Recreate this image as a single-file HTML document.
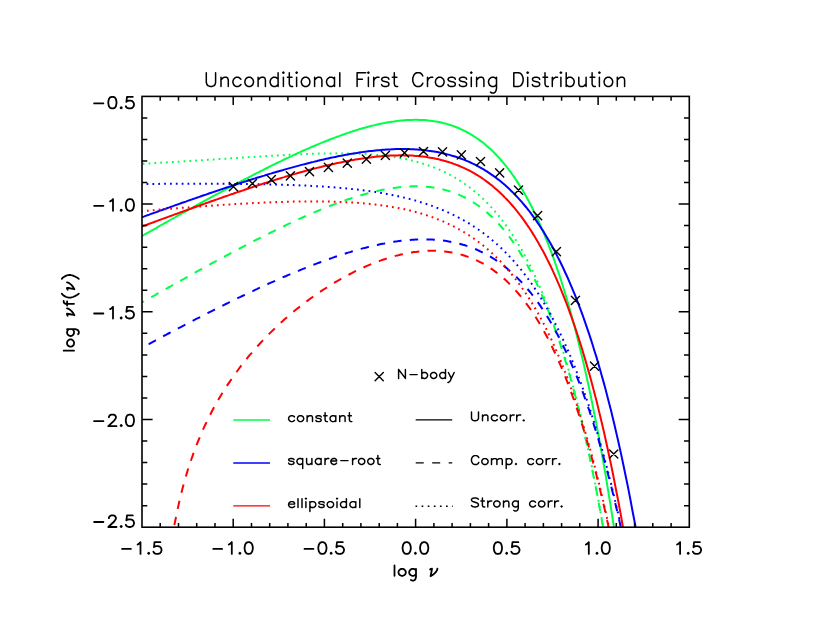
<!DOCTYPE html><html><head><meta charset="utf-8"><title>Unconditional First Crossing Distribution</title><style>html,body{margin:0;padding:0;background:#fff;font-family:"Liberation Sans",sans-serif}svg{display:block}</style></head><body><svg width="830" height="624" viewBox="0 0 830 624">
<rect width="830" height="624" fill="#fff"/>
<defs><clipPath id="c"><rect x="142.0" y="96.4" width="547.3" height="430.80000000000007"/></clipPath></defs>
<g clip-path="url(#c)" fill="none" stroke-width="2">
<path d="M142.0 236.1L143.8 235.0L145.6 234.0L147.5 233.0L149.3 231.9L151.1 230.9L152.9 229.8L154.8 228.8L156.6 227.8L158.4 226.7L160.2 225.7L162.1 224.7L163.9 223.6L165.7 222.6L167.5 221.6L169.4 220.5L171.2 219.5L173.0 218.5L174.8 217.5L176.7 216.4L178.5 215.4L180.3 214.4L182.1 213.4L184.0 212.3L185.8 211.3L187.6 210.3L189.4 209.3L191.3 208.3L193.1 207.3L194.9 206.2L196.7 205.2L198.6 204.2L200.4 203.2L202.2 202.2L204.0 201.2L205.9 200.2L207.7 199.2L209.5 198.2L211.3 197.2L213.1 196.2L215.0 195.2L216.8 194.2L218.6 193.3L220.4 192.3L222.3 191.3L224.1 190.3L225.9 189.3L227.7 188.3L229.6 187.4L231.4 186.4L233.2 185.4L235.0 184.5L236.9 183.5L238.7 182.5L240.5 181.6L242.3 180.6L244.2 179.7L246.0 178.7L247.8 177.8L249.6 176.8L251.5 175.9L253.3 174.9L255.1 174.0L256.9 173.1L258.8 172.1L260.6 171.2L262.4 170.3L264.2 169.4L266.1 168.4L267.9 167.5L269.7 166.6L271.5 165.7L273.4 164.8L275.2 163.9L277.0 163.0L278.8 162.1L280.6 161.3L282.5 160.4L284.3 159.5L286.1 158.6L287.9 157.8L289.8 156.9L291.6 156.1L293.4 155.2L295.2 154.4L297.1 153.5L298.9 152.7L300.7 151.9L302.5 151.0L304.4 150.2L306.2 149.4L308.0 148.6L309.8 147.8L311.7 147.0L313.5 146.2L315.3 145.5L317.1 144.7L319.0 143.9L320.8 143.2L322.6 142.4L324.4 141.7L326.3 141.0L328.1 140.2L329.9 139.5L331.7 138.8L333.6 138.1L335.4 137.4L337.2 136.7L339.0 136.1L340.9 135.4L342.7 134.7L344.5 134.1L346.3 133.5L348.1 132.9L350.0 132.2L351.8 131.6L353.6 131.0L355.4 130.5L357.3 129.9L359.1 129.3L360.9 128.8L362.7 128.3L364.6 127.8L366.4 127.2L368.2 126.8L370.0 126.3L371.9 125.8L373.7 125.4L375.5 124.9L377.3 124.5L379.2 124.1L381.0 123.7L382.8 123.3L384.6 123.0L386.5 122.6L388.3 122.3L390.1 122.0L391.9 121.7L393.8 121.5L395.6 121.2L397.4 121.0L399.2 120.8L401.1 120.6L402.9 120.4L404.7 120.2L406.5 120.1L408.4 120.0L410.2 119.9L412.0 119.9L413.8 119.8L415.7 119.8L417.5 119.8L419.3 119.9L421.1 119.9L422.9 120.0L424.8 120.1L426.6 120.3L428.4 120.5L430.2 120.7L432.1 120.9L433.9 121.2L435.7 121.5L437.5 121.8L439.4 122.1L441.2 122.5L443.0 123.0L444.8 123.4L446.7 123.9L448.5 124.5L450.3 125.0L452.1 125.6L454.0 126.3L455.8 127.0L457.6 127.7L459.4 128.5L461.3 129.3L463.1 130.2L464.9 131.1L466.7 132.0L468.6 133.0L470.4 134.1L472.2 135.2L474.0 136.3L475.9 137.5L477.7 138.8L479.5 140.1L481.3 141.4L483.2 142.8L485.0 144.3L486.8 145.9L488.6 147.5L490.4 149.1L492.3 150.8L494.1 152.6L495.9 154.5L497.7 156.4L499.6 158.4L501.4 160.5L503.2 162.6L505.0 164.8L506.9 167.1L508.7 169.5L510.5 171.9L512.3 174.5L514.2 177.1L516.0 179.8L517.8 182.6L519.6 185.4L521.5 188.4L523.3 191.5L525.1 194.6L526.9 197.9L528.8 201.3L530.6 204.7L532.4 208.3L534.2 212.0L536.1 215.8L537.9 219.7L539.7 223.7L541.5 227.8L543.4 232.1L545.2 236.5L547.0 241.0L548.8 245.6L550.7 250.4L552.5 255.3L554.3 260.3L556.1 265.5L557.9 270.9L559.8 276.4L561.6 282.0L563.4 287.8L565.2 293.8L567.1 299.9L568.9 306.2L570.7 312.6L572.5 319.3L574.4 326.1L576.2 333.1L578.0 340.3L579.8 347.7L581.7 355.2L583.5 363.0L585.3 371.0L587.1 379.2L589.0 387.6L590.8 396.2L592.6 405.1L594.4 414.2L596.3 423.5L598.1 433.1L599.9 442.9L601.7 453.0L603.6 463.3L605.4 473.9L607.2 484.8L609.0 495.9L610.9 507.4L612.7 519.1L614.5 531.1L616.3 543.4L618.2 556.1L620.0 569.0L621.8 582.3L623.6 595.9L625.4 609.9L627.3 624.2L629.1 638.9L630.9 653.9L632.7 669.3" stroke="#00ff48"/>
<path d="M142.0 302.5L143.8 301.5L145.6 300.5L147.5 299.4L149.3 298.4L151.1 297.3L152.9 296.3L154.8 295.3L156.6 294.2L158.4 293.2L160.2 292.1L162.1 291.1L163.9 290.1L165.7 289.1L167.5 288.0L169.4 287.0L171.2 286.0L173.0 284.9L174.8 283.9L176.7 282.9L178.5 281.9L180.3 280.8L182.1 279.8L184.0 278.8L185.8 277.8L187.6 276.8L189.4 275.7L191.3 274.7L193.1 273.7L194.9 272.7L196.7 271.7L198.6 270.7L200.4 269.7L202.2 268.7L204.0 267.7L205.9 266.7L207.7 265.7L209.5 264.7L211.3 263.7L213.1 262.7L215.0 261.7L216.8 260.7L218.6 259.7L220.4 258.7L222.3 257.7L224.1 256.8L225.9 255.8L227.7 254.8L229.6 253.8L231.4 252.9L233.2 251.9L235.0 250.9L236.9 249.9L238.7 249.0L240.5 248.0L242.3 247.1L244.2 246.1L246.0 245.2L247.8 244.2L249.6 243.3L251.5 242.3L253.3 241.4L255.1 240.4L256.9 239.5L258.8 238.6L260.6 237.7L262.4 236.7L264.2 235.8L266.1 234.9L267.9 234.0L269.7 233.1L271.5 232.2L273.4 231.3L275.2 230.4L277.0 229.5L278.8 228.6L280.6 227.7L282.5 226.8L284.3 226.0L286.1 225.1L287.9 224.2L289.8 223.4L291.6 222.5L293.4 221.7L295.2 220.8L297.1 220.0L298.9 219.1L300.7 218.3L302.5 217.5L304.4 216.7L306.2 215.9L308.0 215.1L309.8 214.3L311.7 213.5L313.5 212.7L315.3 211.9L317.1 211.2L319.0 210.4L320.8 209.6L322.6 208.9L324.4 208.1L326.3 207.4L328.1 206.7L329.9 206.0L331.7 205.3L333.6 204.6L335.4 203.9L337.2 203.2L339.0 202.5L340.9 201.9L342.7 201.2L344.5 200.6L346.3 199.9L348.1 199.3L350.0 198.7L351.8 198.1L353.6 197.5L355.4 196.9L357.3 196.4L359.1 195.8L360.9 195.3L362.7 194.7L364.6 194.2L366.4 193.7L368.2 193.2L370.0 192.7L371.9 192.3L373.7 191.8L375.5 191.4L377.3 191.0L379.2 190.6L381.0 190.2L382.8 189.8L384.6 189.4L386.5 189.1L388.3 188.8L390.1 188.5L391.9 188.2L393.8 187.9L395.6 187.7L397.4 187.4L399.2 187.2L401.1 187.0L402.9 186.9L404.7 186.7L406.5 186.6L408.4 186.5L410.2 186.4L412.0 186.3L413.8 186.3L415.7 186.3L417.5 186.3L419.3 186.3L421.1 186.4L422.9 186.5L424.8 186.6L426.6 186.7L428.4 186.9L430.2 187.1L432.1 187.4L433.9 187.6L435.7 187.9L437.5 188.2L439.4 188.6L441.2 189.0L443.0 189.4L444.8 189.9L446.7 190.4L448.5 190.9L450.3 191.5L452.1 192.1L454.0 192.7L455.8 193.4L457.6 194.2L459.4 194.9L461.3 195.8L463.1 196.6L464.9 197.5L466.7 198.5L468.6 199.5L470.4 200.5L472.2 201.6L474.0 202.8L475.9 204.0L477.7 205.2L479.5 206.5L481.3 207.9L483.2 209.3L485.0 210.8L486.8 212.3L488.6 213.9L490.4 215.6L492.3 217.3L494.1 219.1L495.9 220.9L497.7 222.9L499.6 224.9L501.4 226.9L503.2 229.1L505.0 231.3L506.9 233.6L508.7 235.9L510.5 238.4L512.3 240.9L514.2 243.5L516.0 246.2L517.8 249.0L519.6 251.9L521.5 254.9L523.3 257.9L525.1 261.1L526.9 264.4L528.8 267.7L530.6 271.2L532.4 274.8L534.2 278.4L536.1 282.2L537.9 286.1L539.7 290.1L541.5 294.3L543.4 298.5L545.2 302.9L547.0 307.4L548.8 312.1L550.7 316.8L552.5 321.8L554.3 326.8L556.1 332.0L557.9 337.3L559.8 342.8L561.6 348.5L563.4 354.3L565.2 360.2L567.1 366.3L568.9 372.6L570.7 379.1L572.5 385.7L574.4 392.5L576.2 399.5L578.0 406.7L579.8 414.1L581.7 421.7L583.5 429.5L585.3 437.5L587.1 445.6L589.0 454.1L590.8 462.7L592.6 471.6L594.4 480.6L596.3 490.0L598.1 499.5L599.9 509.4L601.7 519.4L603.6 529.8L605.4 540.4L607.2 551.2L609.0 562.4L610.9 573.8L612.7 585.5L614.5 597.6L616.3 609.9L618.2 622.5L620.0 635.5L621.8 648.8L623.6 662.4L625.4 676.3" stroke="#00ff48" stroke-dasharray="8.4 8.25" stroke-dashoffset="6.05"/>
<path d="M142.0 163.8L143.8 163.7L145.6 163.6L147.5 163.5L149.3 163.4L151.1 163.3L152.9 163.2L154.8 163.1L156.6 162.9L158.4 162.8L160.2 162.7L162.1 162.6L163.9 162.5L165.7 162.4L167.5 162.3L169.4 162.2L171.2 162.1L173.0 162.0L174.8 161.9L176.7 161.8L178.5 161.7L180.3 161.6L182.1 161.4L184.0 161.3L185.8 161.2L187.6 161.1L189.4 161.0L191.3 160.9L193.1 160.8L194.9 160.7L196.7 160.5L198.6 160.4L200.4 160.3L202.2 160.2L204.0 160.1L205.9 160.0L207.7 159.8L209.5 159.7L211.3 159.6L213.1 159.5L215.0 159.4L216.8 159.3L218.6 159.1L220.4 159.0L222.3 158.9L224.1 158.8L225.9 158.7L227.7 158.5L229.6 158.4L231.4 158.3L233.2 158.2L235.0 158.1L236.9 157.9L238.7 157.8L240.5 157.7L242.3 157.6L244.2 157.5L246.0 157.4L247.8 157.2L249.6 157.1L251.5 157.0L253.3 156.9L255.1 156.8L256.9 156.7L258.8 156.5L260.6 156.4L262.4 156.3L264.2 156.2L266.1 156.1L267.9 156.0L269.7 155.9L271.5 155.8L273.4 155.7L275.2 155.6L277.0 155.5L278.8 155.4L280.6 155.3L282.5 155.2L284.3 155.1L286.1 155.0L287.9 154.9L289.8 154.8L291.6 154.7L293.4 154.6L295.2 154.5L297.1 154.4L298.9 154.3L300.7 154.3L302.5 154.2L304.4 154.1L306.2 154.0L308.0 154.0L309.8 153.9L311.7 153.8L313.5 153.8L315.3 153.7L317.1 153.7L319.0 153.6L320.8 153.6L322.6 153.5L324.4 153.5L326.3 153.5L328.1 153.4L329.9 153.4L331.7 153.4L333.6 153.4L335.4 153.4L337.2 153.3L339.0 153.3L340.9 153.4L342.7 153.4L344.5 153.4L346.3 153.4L348.1 153.4L350.0 153.5L351.8 153.5L353.6 153.6L355.4 153.6L357.3 153.7L359.1 153.8L360.9 153.8L362.7 153.9L364.6 154.0L366.4 154.1L368.2 154.2L370.0 154.4L371.9 154.5L373.7 154.6L375.5 154.8L377.3 155.0L379.2 155.1L381.0 155.3L382.8 155.5L384.6 155.7L386.5 156.0L388.3 156.2L390.1 156.4L391.9 156.7L393.8 157.0L395.6 157.3L397.4 157.6L399.2 157.9L401.1 158.2L402.9 158.6L404.7 158.9L406.5 159.3L408.4 159.7L410.2 160.1L412.0 160.6L413.8 161.0L415.7 161.5L417.5 162.0L419.3 162.5L421.1 163.0L422.9 163.6L424.8 164.2L426.6 164.8L428.4 165.4L430.2 166.0L432.1 166.7L433.9 167.4L435.7 168.1L437.5 168.9L439.4 169.7L441.2 170.5L443.0 171.3L444.8 172.2L446.7 173.1L448.5 174.0L450.3 175.0L452.1 176.0L454.0 177.0L455.8 178.1L457.6 179.2L459.4 180.3L461.3 181.5L463.1 182.7L464.9 184.0L466.7 185.2L468.6 186.6L470.4 188.0L472.2 189.4L474.0 190.9L475.9 192.4L477.7 193.9L479.5 195.6L481.3 197.2L483.2 198.9L485.0 200.7L486.8 202.5L488.6 204.4L490.4 206.3L492.3 208.3L494.1 210.4L495.9 212.5L497.7 214.7L499.6 216.9L501.4 219.3L503.2 221.6L505.0 224.1L506.9 226.6L508.7 229.2L510.5 231.9L512.3 234.6L514.2 237.4L516.0 240.4L517.8 243.3L519.6 246.4L521.5 249.6L523.3 252.8L525.1 256.2L526.9 259.6L528.8 263.2L530.6 266.8L532.4 270.5L534.2 274.4L536.1 278.3L537.9 282.4L539.7 286.6L541.5 290.8L543.4 295.2L545.2 299.8L547.0 304.4L548.8 309.2L550.7 314.1L552.5 319.1L554.3 324.3L556.1 329.6L557.9 335.0L559.8 340.6L561.6 346.4L563.4 352.3L565.2 358.3L567.1 364.5L568.9 370.9L570.7 377.5L572.5 384.2L574.4 391.1L576.2 398.2L578.0 405.4L579.8 412.9L581.7 420.5L583.5 428.4L585.3 436.4L587.1 444.7L589.0 453.1L590.8 461.8L592.6 470.7L594.4 479.9L596.3 489.2L598.1 498.9L599.9 508.7L601.7 518.8L603.6 529.2L605.4 539.8L607.2 550.7L609.0 561.9L610.9 573.4L612.7 585.1L614.5 597.2L616.3 609.5L618.2 622.2L620.0 635.2L621.8 648.5L623.6 662.1L625.4 676.1" stroke="#00ff48" stroke-dasharray="1.75 4.1" stroke-dashoffset="5.12"/>
<path d="M142.0 217.2L143.8 216.6L145.6 215.9L147.5 215.2L149.3 214.6L151.1 213.9L152.9 213.3L154.8 212.6L156.6 212.0L158.4 211.3L160.2 210.6L162.1 210.0L163.9 209.3L165.7 208.7L167.5 208.0L169.4 207.4L171.2 206.7L173.0 206.1L174.8 205.4L176.7 204.8L178.5 204.1L180.3 203.5L182.1 202.8L184.0 202.2L185.8 201.6L187.6 200.9L189.4 200.3L191.3 199.6L193.1 199.0L194.9 198.4L196.7 197.7L198.6 197.1L200.4 196.5L202.2 195.8L204.0 195.2L205.9 194.6L207.7 194.0L209.5 193.3L211.3 192.7L213.1 192.1L215.0 191.5L216.8 190.9L218.6 190.3L220.4 189.6L222.3 189.0L224.1 188.4L225.9 187.8L227.7 187.2L229.6 186.6L231.4 186.0L233.2 185.4L235.0 184.8L236.9 184.2L238.7 183.6L240.5 183.0L242.3 182.4L244.2 181.8L246.0 181.3L247.8 180.7L249.6 180.1L251.5 179.5L253.3 178.9L255.1 178.4L256.9 177.8L258.8 177.2L260.6 176.7L262.4 176.1L264.2 175.6L266.1 175.0L267.9 174.4L269.7 173.9L271.5 173.4L273.4 172.8L275.2 172.3L277.0 171.7L278.8 171.2L280.6 170.7L282.5 170.2L284.3 169.6L286.1 169.1L287.9 168.6L289.8 168.1L291.6 167.6L293.4 167.1L295.2 166.6L297.1 166.1L298.9 165.6L300.7 165.1L302.5 164.6L304.4 164.2L306.2 163.7L308.0 163.2L309.8 162.8L311.7 162.3L313.5 161.9L315.3 161.4L317.1 161.0L319.0 160.5L320.8 160.1L322.6 159.7L324.4 159.3L326.3 158.8L328.1 158.4L329.9 158.0L331.7 157.6L333.6 157.3L335.4 156.9L337.2 156.5L339.0 156.1L340.9 155.8L342.7 155.4L344.5 155.1L346.3 154.7L348.1 154.4L350.0 154.1L351.8 153.8L353.6 153.5L355.4 153.2L357.3 152.9L359.1 152.6L360.9 152.3L362.7 152.1L364.6 151.8L366.4 151.6L368.2 151.3L370.0 151.1L371.9 150.9L373.7 150.7L375.5 150.5L377.3 150.3L379.2 150.2L381.0 150.0L382.8 149.8L384.6 149.7L386.5 149.6L388.3 149.5L390.1 149.4L391.9 149.3L393.8 149.2L395.6 149.1L397.4 149.1L399.2 149.1L401.1 149.0L402.9 149.0L404.7 149.0L406.5 149.1L408.4 149.1L410.2 149.2L412.0 149.2L413.8 149.3L415.7 149.4L417.5 149.5L419.3 149.7L421.1 149.8L422.9 150.0L424.8 150.2L426.6 150.4L428.4 150.7L430.2 150.9L432.1 151.2L433.9 151.5L435.7 151.8L437.5 152.1L439.4 152.5L441.2 152.9L443.0 153.3L444.8 153.7L446.7 154.2L448.5 154.6L450.3 155.1L452.1 155.7L454.0 156.2L455.8 156.8L457.6 157.4L459.4 158.0L461.3 158.7L463.1 159.4L464.9 160.1L466.7 160.9L468.6 161.7L470.4 162.5L472.2 163.3L474.0 164.2L475.9 165.1L477.7 166.1L479.5 167.1L481.3 168.1L483.2 169.2L485.0 170.3L486.8 171.4L488.6 172.6L490.4 173.8L492.3 175.1L494.1 176.4L495.9 177.7L497.7 179.1L499.6 180.5L501.4 182.0L503.2 183.6L505.0 185.1L506.9 186.8L508.7 188.4L510.5 190.2L512.3 191.9L514.2 193.8L516.0 195.7L517.8 197.6L519.6 199.6L521.5 201.7L523.3 203.8L525.1 206.0L526.9 208.2L528.8 210.5L530.6 212.9L532.4 215.3L534.2 217.8L536.1 220.4L537.9 223.1L539.7 225.8L541.5 228.6L543.4 231.4L545.2 234.4L547.0 237.4L548.8 240.5L550.7 243.7L552.5 247.0L554.3 250.4L556.1 253.8L557.9 257.4L559.8 261.0L561.6 264.7L563.4 268.5L565.2 272.5L567.1 276.5L568.9 280.6L570.7 284.9L572.5 289.2L574.4 293.7L576.2 298.2L578.0 302.9L579.8 307.7L581.7 312.6L583.5 317.7L585.3 322.8L587.1 328.1L589.0 333.6L590.8 339.1L592.6 344.8L594.4 350.7L596.3 356.6L598.1 362.8L599.9 369.0L601.7 375.5L603.6 382.1L605.4 388.8L607.2 395.7L609.0 402.8L610.9 410.1L612.7 417.5L614.5 425.1L616.3 432.9L618.2 440.9L620.0 449.1L621.8 457.4L623.6 466.0L625.4 474.8L627.3 483.7L629.1 492.9L630.9 502.3L632.7 512.0L634.6 521.8L636.4 531.9L638.2 542.3L640.0 552.9L641.9 563.7L643.7 574.8L645.5 586.1" stroke="#0000ff"/>
<path d="M142.0 347.7L143.8 346.7L145.6 345.7L147.5 344.7L149.3 343.8L151.1 342.8L152.9 341.8L154.8 340.8L156.6 339.8L158.4 338.9L160.2 337.9L162.1 336.9L163.9 335.9L165.7 335.0L167.5 334.0L169.4 333.0L171.2 332.1L173.0 331.1L174.8 330.1L176.7 329.2L178.5 328.2L180.3 327.3L182.1 326.3L184.0 325.4L185.8 324.4L187.6 323.5L189.4 322.5L191.3 321.6L193.1 320.6L194.9 319.7L196.7 318.7L198.6 317.8L200.4 316.9L202.2 315.9L204.0 315.0L205.9 314.1L207.7 313.1L209.5 312.2L211.3 311.3L213.1 310.4L215.0 309.5L216.8 308.5L218.6 307.6L220.4 306.7L222.3 305.8L224.1 304.9L225.9 304.0L227.7 303.1L229.6 302.2L231.4 301.3L233.2 300.4L235.0 299.5L236.9 298.6L238.7 297.7L240.5 296.9L242.3 296.0L244.2 295.1L246.0 294.2L247.8 293.4L249.6 292.5L251.5 291.6L253.3 290.8L255.1 289.9L256.9 289.1L258.8 288.2L260.6 287.4L262.4 286.5L264.2 285.7L266.1 284.9L267.9 284.0L269.7 283.2L271.5 282.4L273.4 281.6L275.2 280.8L277.0 279.9L278.8 279.1L280.6 278.3L282.5 277.5L284.3 276.7L286.1 276.0L287.9 275.2L289.8 274.4L291.6 273.6L293.4 272.9L295.2 272.1L297.1 271.3L298.9 270.6L300.7 269.8L302.5 269.1L304.4 268.4L306.2 267.6L308.0 266.9L309.8 266.2L311.7 265.5L313.5 264.8L315.3 264.1L317.1 263.4L319.0 262.7L320.8 262.0L322.6 261.3L324.4 260.7L326.3 260.0L328.1 259.3L329.9 258.7L331.7 258.1L333.6 257.4L335.4 256.8L337.2 256.2L339.0 255.6L340.9 255.0L342.7 254.4L344.5 253.8L346.3 253.2L348.1 252.6L350.0 252.1L351.8 251.5L353.6 251.0L355.4 250.5L357.3 249.9L359.1 249.4L360.9 248.9L362.7 248.4L364.6 247.9L366.4 247.5L368.2 247.0L370.0 246.6L371.9 246.1L373.7 245.7L375.5 245.3L377.3 244.9L379.2 244.5L381.0 244.1L382.8 243.7L384.6 243.4L386.5 243.0L388.3 242.7L390.1 242.4L391.9 242.1L393.8 241.8L395.6 241.5L397.4 241.3L399.2 241.0L401.1 240.8L402.9 240.6L404.7 240.4L406.5 240.2L408.4 240.1L410.2 239.9L412.0 239.8L413.8 239.7L415.7 239.6L417.5 239.5L419.3 239.4L421.1 239.4L422.9 239.4L424.8 239.4L426.6 239.4L428.4 239.4L430.2 239.5L432.1 239.6L433.9 239.7L435.7 239.8L437.5 240.0L439.4 240.2L441.2 240.4L443.0 240.6L444.8 240.8L446.7 241.1L448.5 241.4L450.3 241.7L452.1 242.1L454.0 242.4L455.8 242.8L457.6 243.3L459.4 243.7L461.3 244.2L463.1 244.8L464.9 245.3L466.7 245.9L468.6 246.5L470.4 247.2L472.2 247.9L474.0 248.6L475.9 249.3L477.7 250.1L479.5 251.0L481.3 251.8L483.2 252.7L485.0 253.7L486.8 254.7L488.6 255.7L490.4 256.7L492.3 257.9L494.1 259.0L495.9 260.2L497.7 261.4L499.6 262.7L501.4 264.1L503.2 265.4L505.0 266.9L506.9 268.3L508.7 269.9L510.5 271.5L512.3 273.1L514.2 274.8L516.0 276.5L517.8 278.4L519.6 280.2L521.5 282.1L523.3 284.1L525.1 286.2L526.9 288.3L528.8 290.5L530.6 292.7L532.4 295.0L534.2 297.4L536.1 299.8L537.9 302.4L539.7 304.9L541.5 307.6L543.4 310.4L545.2 313.2L547.0 316.1L548.8 319.1L550.7 322.2L552.5 325.3L554.3 328.6L556.1 331.9L557.9 335.3L559.8 338.8L561.6 342.5L563.4 346.2L565.2 350.0L567.1 353.9L568.9 357.9L570.7 362.0L572.5 366.3L574.4 370.6L576.2 375.1L578.0 379.6L579.8 384.3L581.7 389.2L583.5 394.1L585.3 399.2L587.1 404.4L589.0 409.7L590.8 415.1L592.6 420.7L594.4 426.5L596.3 432.4L598.1 438.4L599.9 444.6L601.7 450.9L603.6 457.4L605.4 464.1L607.2 470.9L609.0 477.9L610.9 485.1L612.7 492.4L614.5 499.9L616.3 507.6L618.2 515.5L620.0 523.6L621.8 531.9L623.6 540.4L625.4 549.1L627.3 558.0L629.1 567.1L630.9 576.4L632.7 586.0L634.6 595.7L636.4 605.8L638.2 616.0L640.0 626.5L641.9 637.3L643.7 648.3L645.5 659.6" stroke="#0000ff" stroke-dasharray="8.4 8.25" stroke-dashoffset="9.25"/>
<path d="M142.0 183.9L143.8 183.9L145.6 183.9L147.5 183.9L149.3 183.9L151.1 183.9L152.9 183.9L154.8 183.9L156.6 183.9L158.4 183.9L160.2 183.8L162.1 183.8L163.9 183.8L165.7 183.8L167.5 183.8L169.4 183.8L171.2 183.8L173.0 183.8L174.8 183.8L176.7 183.8L178.5 183.8L180.3 183.8L182.1 183.8L184.0 183.8L185.8 183.8L187.6 183.8L189.4 183.8L191.3 183.8L193.1 183.8L194.9 183.8L196.7 183.8L198.6 183.8L200.4 183.8L202.2 183.8L204.0 183.8L205.9 183.8L207.7 183.8L209.5 183.8L211.3 183.8L213.1 183.8L215.0 183.8L216.8 183.8L218.6 183.8L220.4 183.8L222.3 183.8L224.1 183.8L225.9 183.8L227.7 183.8L229.6 183.9L231.4 183.9L233.2 183.9L235.0 183.9L236.9 183.9L238.7 183.9L240.5 183.9L242.3 184.0L244.2 184.0L246.0 184.0L247.8 184.0L249.6 184.0L251.5 184.1L253.3 184.1L255.1 184.1L256.9 184.2L258.8 184.2L260.6 184.2L262.4 184.2L264.2 184.3L266.1 184.3L267.9 184.4L269.7 184.4L271.5 184.4L273.4 184.5L275.2 184.5L277.0 184.6L278.8 184.6L280.6 184.7L282.5 184.7L284.3 184.8L286.1 184.8L287.9 184.9L289.8 185.0L291.6 185.0L293.4 185.1L295.2 185.2L297.1 185.2L298.9 185.3L300.7 185.4L302.5 185.5L304.4 185.5L306.2 185.6L308.0 185.7L309.8 185.8L311.7 185.9L313.5 186.0L315.3 186.1L317.1 186.2L319.0 186.3L320.8 186.4L322.6 186.5L324.4 186.7L326.3 186.8L328.1 186.9L329.9 187.0L331.7 187.2L333.6 187.3L335.4 187.5L337.2 187.6L339.0 187.8L340.9 187.9L342.7 188.1L344.5 188.3L346.3 188.4L348.1 188.6L350.0 188.8L351.8 189.0L353.6 189.2L355.4 189.4L357.3 189.6L359.1 189.8L360.9 190.0L362.7 190.3L364.6 190.5L366.4 190.7L368.2 191.0L370.0 191.2L371.9 191.5L373.7 191.8L375.5 192.0L377.3 192.3L379.2 192.6L381.0 192.9L382.8 193.2L384.6 193.6L386.5 193.9L388.3 194.2L390.1 194.6L391.9 194.9L393.8 195.3L395.6 195.7L397.4 196.1L399.2 196.5L401.1 196.9L402.9 197.3L404.7 197.8L406.5 198.2L408.4 198.7L410.2 199.1L412.0 199.6L413.8 200.1L415.7 200.6L417.5 201.2L419.3 201.7L421.1 202.3L422.9 202.8L424.8 203.4L426.6 204.0L428.4 204.6L430.2 205.3L432.1 205.9L433.9 206.6L435.7 207.3L437.5 208.0L439.4 208.7L441.2 209.4L443.0 210.2L444.8 211.0L446.7 211.8L448.5 212.6L450.3 213.4L452.1 214.3L454.0 215.2L455.8 216.1L457.6 217.0L459.4 218.0L461.3 219.0L463.1 220.0L464.9 221.0L466.7 222.1L468.6 223.2L470.4 224.3L472.2 225.5L474.0 226.6L475.9 227.8L477.7 229.1L479.5 230.3L481.3 231.6L483.2 233.0L485.0 234.3L486.8 235.7L488.6 237.2L490.4 238.7L492.3 240.2L494.1 241.7L495.9 243.3L497.7 244.9L499.6 246.6L501.4 248.3L503.2 250.1L505.0 251.9L506.9 253.7L508.7 255.6L510.5 257.6L512.3 259.5L514.2 261.6L516.0 263.7L517.8 265.8L519.6 268.0L521.5 270.2L523.3 272.5L525.1 274.9L526.9 277.3L528.8 279.8L530.6 282.3L532.4 284.9L534.2 287.6L536.1 290.3L537.9 293.1L539.7 296.0L541.5 298.9L543.4 301.9L545.2 305.0L547.0 308.2L548.8 311.4L550.7 314.7L552.5 318.1L554.3 321.6L556.1 325.2L557.9 328.8L559.8 332.6L561.6 336.4L563.4 340.3L565.2 344.3L567.1 348.4L568.9 352.6L570.7 357.0L572.5 361.4L574.4 365.9L576.2 370.5L578.0 375.3L579.8 380.1L581.7 385.1L583.5 390.2L585.3 395.4L587.1 400.8L589.0 406.2L590.8 411.9L592.6 417.6L594.4 423.5L596.3 429.5L598.1 435.6L599.9 442.0L601.7 448.4L603.6 455.0L605.4 461.8L607.2 468.7L609.0 475.8L610.9 483.1L612.7 490.5L614.5 498.1L616.3 505.9L618.2 513.9L620.0 522.1L621.8 530.4L623.6 539.0L625.4 547.7L627.3 556.7L629.1 565.9L630.9 575.3L632.7 584.9L634.6 594.7L636.4 604.8L638.2 615.1L640.0 625.7L641.9 636.5L643.7 647.6L645.5 658.9" stroke="#0000ff" stroke-dasharray="1.75 4.1" stroke-dashoffset="1.25"/>
<path d="M142.0 226.5L143.8 225.8L145.6 225.2L147.5 224.5L149.3 223.8L151.1 223.1L152.9 222.5L154.8 221.8L156.6 221.1L158.4 220.4L160.2 219.8L162.1 219.1L163.9 218.4L165.7 217.8L167.5 217.1L169.4 216.4L171.2 215.8L173.0 215.1L174.8 214.4L176.7 213.8L178.5 213.1L180.3 212.4L182.1 211.8L184.0 211.1L185.8 210.5L187.6 209.8L189.4 209.1L191.3 208.5L193.1 207.8L194.9 207.2L196.7 206.5L198.6 205.9L200.4 205.2L202.2 204.5L204.0 203.9L205.9 203.2L207.7 202.6L209.5 202.0L211.3 201.3L213.1 200.7L215.0 200.0L216.8 199.4L218.6 198.7L220.4 198.1L222.3 197.5L224.1 196.8L225.9 196.2L227.7 195.6L229.6 194.9L231.4 194.3L233.2 193.7L235.0 193.0L236.9 192.4L238.7 191.8L240.5 191.2L242.3 190.6L244.2 190.0L246.0 189.3L247.8 188.7L249.6 188.1L251.5 187.5L253.3 186.9L255.1 186.3L256.9 185.7L258.8 185.1L260.6 184.5L262.4 183.9L264.2 183.3L266.1 182.8L267.9 182.2L269.7 181.6L271.5 181.0L273.4 180.5L275.2 179.9L277.0 179.3L278.8 178.8L280.6 178.2L282.5 177.6L284.3 177.1L286.1 176.5L287.9 176.0L289.8 175.5L291.6 174.9L293.4 174.4L295.2 173.9L297.1 173.3L298.9 172.8L300.7 172.3L302.5 171.8L304.4 171.3L306.2 170.8L308.0 170.3L309.8 169.8L311.7 169.3L313.5 168.8L315.3 168.4L317.1 167.9L319.0 167.4L320.8 167.0L322.6 166.5L324.4 166.1L326.3 165.6L328.1 165.2L329.9 164.8L331.7 164.4L333.6 163.9L335.4 163.5L337.2 163.1L339.0 162.8L340.9 162.4L342.7 162.0L344.5 161.6L346.3 161.3L348.1 160.9L350.0 160.6L351.8 160.2L353.6 159.9L355.4 159.6L357.3 159.3L359.1 159.0L360.9 158.7L362.7 158.4L364.6 158.2L366.4 157.9L368.2 157.7L370.0 157.4L371.9 157.2L373.7 157.0L375.5 156.8L377.3 156.6L379.2 156.4L381.0 156.2L382.8 156.1L384.6 156.0L386.5 155.8L388.3 155.7L390.1 155.6L391.9 155.5L393.8 155.5L395.6 155.4L397.4 155.4L399.2 155.3L401.1 155.3L402.9 155.3L404.7 155.4L406.5 155.4L408.4 155.5L410.2 155.5L412.0 155.6L413.8 155.7L415.7 155.9L417.5 156.0L419.3 156.2L421.1 156.4L422.9 156.6L424.8 156.8L426.6 157.1L428.4 157.4L430.2 157.7L432.1 158.0L433.9 158.3L435.7 158.7L437.5 159.1L439.4 159.5L441.2 160.0L443.0 160.5L444.8 161.0L446.7 161.5L448.5 162.0L450.3 162.6L452.1 163.2L454.0 163.9L455.8 164.6L457.6 165.3L459.4 166.0L461.3 166.8L463.1 167.6L464.9 168.4L466.7 169.3L468.6 170.2L470.4 171.2L472.2 172.2L474.0 173.2L475.9 174.3L477.7 175.4L479.5 176.5L481.3 177.7L483.2 179.0L485.0 180.2L486.8 181.6L488.6 182.9L490.4 184.4L492.3 185.8L494.1 187.4L495.9 188.9L497.7 190.5L499.6 192.2L501.4 193.9L503.2 195.7L505.0 197.6L506.9 199.5L508.7 201.4L510.5 203.4L512.3 205.5L514.2 207.7L516.0 209.9L517.8 212.1L519.6 214.5L521.5 216.9L523.3 219.4L525.1 221.9L526.9 224.6L528.8 227.3L530.6 230.0L532.4 232.9L534.2 235.8L536.1 238.9L537.9 242.0L539.7 245.2L541.5 248.5L543.4 251.8L545.2 255.3L547.0 258.9L548.8 262.5L550.7 266.3L552.5 270.2L554.3 274.1L556.1 278.2L557.9 282.4L559.8 286.7L561.6 291.1L563.4 295.6L565.2 300.2L567.1 305.0L568.9 309.9L570.7 314.9L572.5 320.0L574.4 325.3L576.2 330.7L578.0 336.3L579.8 341.9L581.7 347.8L583.5 353.8L585.3 359.9L587.1 366.2L589.0 372.6L590.8 379.3L592.6 386.0L594.4 393.0L596.3 400.1L598.1 407.4L599.9 414.9L601.7 422.6L603.6 430.4L605.4 438.5L607.2 446.7L609.0 455.2L610.9 463.9L612.7 472.8L614.5 481.9L616.3 491.2L618.2 500.7L620.0 510.5L621.8 520.5L623.6 530.8L625.4 541.3L627.3 552.1L629.1 563.1L630.9 574.4L632.7 586.0L634.6 597.9L636.4 610.0L638.2 622.4L640.0 635.2L641.9 648.2L643.7 661.6L645.5 675.2" stroke="#ff0000"/>
<path d="M160.2 675.2L162.1 637.5L163.9 610.5L165.7 589.4L167.5 572.1L169.4 557.4L171.2 544.5L173.0 533.2L174.8 522.9L176.7 513.7L178.5 505.1L180.3 497.3L182.1 490.0L184.0 483.1L185.8 476.7L187.6 470.6L189.4 464.9L191.3 459.5L193.1 454.3L194.9 449.3L196.7 444.6L198.6 440.0L200.4 435.7L202.2 431.5L204.0 427.4L205.9 423.5L207.7 419.7L209.5 416.1L211.3 412.5L213.1 409.1L215.0 405.7L216.8 402.5L218.6 399.3L220.4 396.2L222.3 393.2L224.1 390.3L225.9 387.4L227.7 384.6L229.6 381.9L231.4 379.2L233.2 376.6L235.0 374.0L236.9 371.5L238.7 369.0L240.5 366.6L242.3 364.3L244.2 361.9L246.0 359.7L247.8 357.4L249.6 355.2L251.5 353.1L253.3 351.0L255.1 348.9L256.9 346.8L258.8 344.8L260.6 342.8L262.4 340.9L264.2 338.9L266.1 337.1L267.9 335.2L269.7 333.4L271.5 331.6L273.4 329.8L275.2 328.0L277.0 326.3L278.8 324.6L280.6 322.9L282.5 321.3L284.3 319.6L286.1 318.0L287.9 316.4L289.8 314.9L291.6 313.3L293.4 311.8L295.2 310.3L297.1 308.8L298.9 307.4L300.7 305.9L302.5 304.5L304.4 303.1L306.2 301.7L308.0 300.4L309.8 299.0L311.7 297.7L313.5 296.4L315.3 295.1L317.1 293.9L319.0 292.6L320.8 291.4L322.6 290.2L324.4 289.0L326.3 287.8L328.1 286.6L329.9 285.5L331.7 284.3L333.6 283.2L335.4 282.1L337.2 281.1L339.0 280.0L340.9 279.0L342.7 277.9L344.5 276.9L346.3 275.9L348.1 275.0L350.0 274.0L351.8 273.1L353.6 272.1L355.4 271.2L357.3 270.4L359.1 269.5L360.9 268.6L362.7 267.8L364.6 267.0L366.4 266.2L368.2 265.4L370.0 264.6L371.9 263.9L373.7 263.2L375.5 262.4L377.3 261.8L379.2 261.1L381.0 260.4L382.8 259.8L384.6 259.2L386.5 258.6L388.3 258.0L390.1 257.5L391.9 256.9L393.8 256.4L395.6 255.9L397.4 255.4L399.2 255.0L401.1 254.5L402.9 254.1L404.7 253.7L406.5 253.4L408.4 253.0L410.2 252.7L412.0 252.4L413.8 252.1L415.7 251.9L417.5 251.7L419.3 251.5L421.1 251.3L422.9 251.1L424.8 251.0L426.6 250.9L428.4 250.8L430.2 250.8L432.1 250.8L433.9 250.8L435.7 250.8L437.5 250.9L439.4 251.0L441.2 251.1L443.0 251.3L444.8 251.5L446.7 251.7L448.5 251.9L450.3 252.2L452.1 252.5L454.0 252.9L455.8 253.3L457.6 253.7L459.4 254.2L461.3 254.6L463.1 255.2L464.9 255.8L466.7 256.4L468.6 257.0L470.4 257.7L472.2 258.4L474.0 259.2L475.9 260.0L477.7 260.9L479.5 261.8L481.3 262.7L483.2 263.7L485.0 264.8L486.8 265.9L488.6 267.0L490.4 268.2L492.3 269.4L494.1 270.7L495.9 272.1L497.7 273.5L499.6 274.9L501.4 276.4L503.2 278.0L505.0 279.6L506.9 281.3L508.7 283.1L510.5 284.9L512.3 286.8L514.2 288.7L516.0 290.8L517.8 292.8L519.6 295.0L521.5 297.2L523.3 299.5L525.1 301.9L526.9 304.3L528.8 306.9L530.6 309.5L532.4 312.2L534.2 314.9L536.1 317.8L537.9 320.7L539.7 323.8L541.5 326.9L543.4 330.1L545.2 333.4L547.0 336.8L548.8 340.3L550.7 343.9L552.5 347.7L554.3 351.5L556.1 355.4L557.9 359.4L559.8 363.6L561.6 367.9L563.4 372.2L565.2 376.7L567.1 381.4L568.9 386.1L570.7 391.0L572.5 396.0L574.4 401.1L576.2 406.4L578.0 411.9L579.8 417.4L581.7 423.1L583.5 429.0L585.3 435.0L587.1 441.2L589.0 447.5L590.8 454.0L592.6 460.7L594.4 467.5L596.3 474.6L598.1 481.7L599.9 489.1L601.7 496.7L603.6 504.4L605.4 512.4L607.2 520.6L609.0 528.9L610.9 537.5L612.7 546.3L614.5 555.3L616.3 564.5L618.2 574.0L620.0 583.7L621.8 593.6L623.6 603.8L625.4 614.2L627.3 624.9L629.1 635.8L630.9 647.0L632.7 658.5L634.6 670.3" stroke="#ff0000" stroke-dasharray="8.4 8.25" stroke-dashoffset="15.7"/>
<path d="M142.0 211.2L143.8 211.1L145.6 210.9L147.5 210.7L149.3 210.6L151.1 210.4L152.9 210.3L154.8 210.1L156.6 209.9L158.4 209.8L160.2 209.6L162.1 209.5L163.9 209.3L165.7 209.2L167.5 209.0L169.4 208.9L171.2 208.7L173.0 208.6L174.8 208.4L176.7 208.3L178.5 208.1L180.3 208.0L182.1 207.8L184.0 207.7L185.8 207.5L187.6 207.4L189.4 207.3L191.3 207.1L193.1 207.0L194.9 206.9L196.7 206.7L198.6 206.6L200.4 206.4L202.2 206.3L204.0 206.2L205.9 206.1L207.7 205.9L209.5 205.8L211.3 205.7L213.1 205.5L215.0 205.4L216.8 205.3L218.6 205.2L220.4 205.1L222.3 204.9L224.1 204.8L225.9 204.7L227.7 204.6L229.6 204.5L231.4 204.4L233.2 204.2L235.0 204.1L236.9 204.0L238.7 203.9L240.5 203.8L242.3 203.7L244.2 203.6L246.0 203.5L247.8 203.4L249.6 203.3L251.5 203.2L253.3 203.1L255.1 203.0L256.9 203.0L258.8 202.9L260.6 202.8L262.4 202.7L264.2 202.6L266.1 202.5L267.9 202.5L269.7 202.4L271.5 202.3L273.4 202.2L275.2 202.2L277.0 202.1L278.8 202.1L280.6 202.0L282.5 201.9L284.3 201.9L286.1 201.8L287.9 201.8L289.8 201.7L291.6 201.7L293.4 201.6L295.2 201.6L297.1 201.6L298.9 201.5L300.7 201.5L302.5 201.5L304.4 201.5L306.2 201.5L308.0 201.4L309.8 201.4L311.7 201.4L313.5 201.4L315.3 201.4L317.1 201.4L319.0 201.4L320.8 201.5L322.6 201.5L324.4 201.5L326.3 201.5L328.1 201.6L329.9 201.6L331.7 201.6L333.6 201.7L335.4 201.7L337.2 201.8L339.0 201.9L340.9 201.9L342.7 202.0L344.5 202.1L346.3 202.2L348.1 202.3L350.0 202.4L351.8 202.5L353.6 202.6L355.4 202.7L357.3 202.8L359.1 203.0L360.9 203.1L362.7 203.3L364.6 203.4L366.4 203.6L368.2 203.8L370.0 203.9L371.9 204.1L373.7 204.3L375.5 204.5L377.3 204.8L379.2 205.0L381.0 205.2L382.8 205.5L384.6 205.7L386.5 206.0L388.3 206.3L390.1 206.6L391.9 206.9L393.8 207.2L395.6 207.5L397.4 207.9L399.2 208.2L401.1 208.6L402.9 208.9L404.7 209.3L406.5 209.7L408.4 210.2L410.2 210.6L412.0 211.0L413.8 211.5L415.7 212.0L417.5 212.5L419.3 213.0L421.1 213.5L422.9 214.1L424.8 214.6L426.6 215.2L428.4 215.8L430.2 216.5L432.1 217.1L433.9 217.8L435.7 218.4L437.5 219.2L439.4 219.9L441.2 220.6L443.0 221.4L444.8 222.2L446.7 223.0L448.5 223.9L450.3 224.7L452.1 225.6L454.0 226.6L455.8 227.5L457.6 228.5L459.4 229.5L461.3 230.5L463.1 231.6L464.9 232.7L466.7 233.8L468.6 235.0L470.4 236.2L472.2 237.4L474.0 238.7L475.9 240.0L477.7 241.3L479.5 242.7L481.3 244.1L483.2 245.5L485.0 247.0L486.8 248.6L488.6 250.1L490.4 251.8L492.3 253.4L494.1 255.1L495.9 256.9L497.7 258.7L499.6 260.5L501.4 262.4L503.2 264.4L505.0 266.4L506.9 268.5L508.7 270.6L510.5 272.8L512.3 275.0L514.2 277.3L516.0 279.6L517.8 282.0L519.6 284.5L521.5 287.1L523.3 289.7L525.1 292.3L526.9 295.1L528.8 297.9L530.6 300.8L532.4 303.8L534.2 306.8L536.1 309.9L537.9 313.1L539.7 316.4L541.5 319.8L543.4 323.3L545.2 326.8L547.0 330.5L548.8 334.2L550.7 338.0L552.5 342.0L554.3 346.0L556.1 350.1L557.9 354.4L559.8 358.7L561.6 363.1L563.4 367.7L565.2 372.4L567.1 377.2L568.9 382.1L570.7 387.2L572.5 392.3L574.4 397.6L576.2 403.1L578.0 408.6L579.8 414.3L581.7 420.2L583.5 426.2L585.3 432.3L587.1 438.6L589.0 445.1L590.8 451.7L592.6 458.5L594.4 465.4L596.3 472.6L598.1 479.9L599.9 487.3L601.7 495.0L603.6 502.8L605.4 510.9L607.2 519.1L609.0 527.5L610.9 536.2L612.7 545.0L614.5 554.1L616.3 563.4L618.2 572.9L620.0 582.7L621.8 592.7L623.6 602.9L625.4 613.4L627.3 624.1L629.1 635.1L630.9 646.4L632.7 657.9L634.6 669.7" stroke="#ff0000" stroke-dasharray="1.75 4.1" stroke-dashoffset="0.87"/>
</g>
<path d="M160.2 527.2v-4.3M160.2 96.4v4.3M178.5 527.2v-4.3M178.5 96.4v4.3M196.7 527.2v-4.3M196.7 96.4v4.3M215.0 527.2v-4.3M215.0 96.4v4.3M233.2 527.2v-8.5M233.2 96.4v8.5M251.5 527.2v-4.3M251.5 96.4v4.3M269.7 527.2v-4.3M269.7 96.4v4.3M287.9 527.2v-4.3M287.9 96.4v4.3M306.2 527.2v-4.3M306.2 96.4v4.3M324.4 527.2v-8.5M324.4 96.4v8.5M342.7 527.2v-4.3M342.7 96.4v4.3M360.9 527.2v-4.3M360.9 96.4v4.3M379.2 527.2v-4.3M379.2 96.4v4.3M397.4 527.2v-4.3M397.4 96.4v4.3M415.6 527.2v-8.5M415.6 96.4v8.5M433.9 527.2v-4.3M433.9 96.4v4.3M452.1 527.2v-4.3M452.1 96.4v4.3M470.4 527.2v-4.3M470.4 96.4v4.3M488.6 527.2v-4.3M488.6 96.4v4.3M506.9 527.2v-8.5M506.9 96.4v8.5M525.1 527.2v-4.3M525.1 96.4v4.3M543.4 527.2v-4.3M543.4 96.4v4.3M561.6 527.2v-4.3M561.6 96.4v4.3M579.8 527.2v-4.3M579.8 96.4v4.3M598.1 527.2v-8.5M598.1 96.4v8.5M616.3 527.2v-4.3M616.3 96.4v4.3M634.6 527.2v-4.3M634.6 96.4v4.3M652.8 527.2v-4.3M652.8 96.4v4.3M671.1 527.2v-4.3M671.1 96.4v4.3M142.0 117.9h5.3M689.3 117.9h-5.3M142.0 139.5h5.3M689.3 139.5h-5.3M142.0 161.0h5.3M689.3 161.0h-5.3M142.0 182.6h5.3M689.3 182.6h-5.3M142.0 204.1h10.6M689.3 204.1h-10.6M142.0 225.6h5.3M689.3 225.6h-5.3M142.0 247.2h5.3M689.3 247.2h-5.3M142.0 268.7h5.3M689.3 268.7h-5.3M142.0 290.3h5.3M689.3 290.3h-5.3M142.0 311.8h10.6M689.3 311.8h-10.6M142.0 333.3h5.3M689.3 333.3h-5.3M142.0 354.9h5.3M689.3 354.9h-5.3M142.0 376.4h5.3M689.3 376.4h-5.3M142.0 398.0h5.3M689.3 398.0h-5.3M142.0 419.5h10.6M689.3 419.5h-10.6M142.0 441.0h5.3M689.3 441.0h-5.3M142.0 462.6h5.3M689.3 462.6h-5.3M142.0 484.1h5.3M689.3 484.1h-5.3M142.0 505.7h5.3M689.3 505.7h-5.3" stroke="#000" stroke-width="1.5" fill="none"/>
<rect x="142.0" y="96.4" width="547.3" height="430.80000000000007" fill="none" stroke="#000" stroke-width="1.6"/>
<path d="M229.3 182.6l8.2 8.2m-8.2 0l8.2 -8.2M248.3 179.4l8.2 8.2m-8.2 0l8.2 -8.2M267.2 175.5l8.2 8.2m-8.2 0l8.2 -8.2M286.3 171.7l8.2 8.2m-8.2 0l8.2 -8.2M305.4 167.5l8.2 8.2m-8.2 0l8.2 -8.2M324.3 163.2l8.2 8.2m-8.2 0l8.2 -8.2M343.2 159.0l8.2 8.2m-8.2 0l8.2 -8.2M362.3 155.1l8.2 8.2m-8.2 0l8.2 -8.2M381.3 151.2l8.2 8.2m-8.2 0l8.2 -8.2M400.4 148.7l8.2 8.2m-8.2 0l8.2 -8.2M419.4 147.4l8.2 8.2m-8.2 0l8.2 -8.2M438.4 147.7l8.2 8.2m-8.2 0l8.2 -8.2M457.3 150.8l8.2 8.2m-8.2 0l8.2 -8.2M476.4 157.4l8.2 8.2m-8.2 0l8.2 -8.2M495.5 168.8l8.2 8.2m-8.2 0l8.2 -8.2M514.4 186.0l8.2 8.2m-8.2 0l8.2 -8.2M533.5 211.5l8.2 8.2m-8.2 0l8.2 -8.2M552.3 247.5l8.2 8.2m-8.2 0l8.2 -8.2M571.3 296.3l8.2 8.2m-8.2 0l8.2 -8.2M590.4 362.1l8.2 8.2m-8.2 0l8.2 -8.2M609.6 449.9l8.2 8.2m-8.2 0l8.2 -8.2M375.1 372.6l8.2 8.2m-8.2 0l8.2 -8.2" stroke="#000" stroke-width="1.4" fill="none" stroke-linecap="round"/>
<path d="M206.3 72.7L206.3 82.6L207 84.6L208.3 85.9L210.3 86.5L211.7 86.5L213.7 85.9L215 84.6L215.6 82.6L215.6 72.7M228.3 86.5L228.3 79.9L227.6 77.9L226.3 77.3L224.3 77.3L222.9 77.9L221 79.9L221 86.5M221 79.9L221 77.3M240.9 84.6L239.5 85.9L238.2 86.5L236.2 86.5L234.9 85.9L233.6 84.6L232.9 82.6L232.9 81.3L233.6 79.3L234.9 77.9L236.2 77.3L238.2 77.3L239.5 77.9L240.9 79.3M246.9 77.9L248.2 77.3L250.2 77.3L251.5 77.9L252.8 79.3L253.5 81.3L253.5 82.6L252.8 84.6L251.5 85.9L250.2 86.5L248.2 86.5L246.9 85.9L245.5 84.6L244.9 82.6L244.9 81.3L245.5 79.3L246.9 77.9M265.4 86.5L265.4 79.9L264.8 77.9L263.5 77.3L261.5 77.3L260.1 77.9L258.1 79.9L258.1 86.5M258.1 79.9L258.1 77.3M278.1 86.5L278.1 72.7M278.1 79.3L276.7 77.9L275.4 77.3L273.4 77.3L272.1 77.9L270.8 79.3L270.1 81.3L270.1 82.6L270.8 84.6L272.1 85.9L273.4 86.5L275.4 86.5L276.7 85.9L278.1 84.6M283.4 77.3L283.4 86.5M282.7 72.7L283.4 72L284 72.7L283.4 73.3M289.3 72.7L289.3 83.9L290 85.9L291.3 86.5L292.7 86.5M292 77.3L287.4 77.3M296.6 77.3L296.6 86.5M296 72.7L296.6 72L297.3 72.7L296.6 73.3M303.3 77.9L304.6 77.3L306.6 77.3L307.9 77.9L309.3 79.3L309.9 81.3L309.9 82.6L309.3 84.6L307.9 85.9L306.6 86.5L304.6 86.5L303.3 85.9L302 84.6L301.3 82.6L301.3 81.3L302 79.3L303.3 77.9M321.9 86.5L321.9 79.9L321.2 77.9L319.9 77.3L317.9 77.3L316.6 77.9L314.6 79.9L314.6 86.5M314.6 79.9L314.6 77.3M334.5 77.3L334.5 86.5M334.5 79.3L333.2 77.9L331.8 77.3L329.8 77.3L328.5 77.9L327.2 79.3L326.5 81.3L326.5 82.6L327.2 84.6L328.5 85.9L329.8 86.5L331.8 86.5L333.2 85.9L334.5 84.6M339.8 72.7L339.8 86.5M362.4 79.3L357.1 79.3L357.1 72.7L365.7 72.7M357.1 79.3L357.1 86.5M368.4 77.3L368.4 86.5M367.7 72.7L368.4 72L369 72.7L368.4 73.3M379 77.3L377 77.3L375.7 77.9L374.3 79.3L373.7 81.3L373.7 86.5M373.7 81.3L373.7 77.3M373.7 81.3M373.7 81.3M381.6 84.6L382.3 85.9L384.3 86.5L386.3 86.5L388.3 85.9L388.9 84.6L388.9 83.9L388.3 82.6L386.9 81.9L383.6 81.3L382.3 80.6L381.6 79.3L382.3 77.9L384.3 77.3L386.3 77.3L388.3 77.9L388.9 79.3M394.3 72.7L394.3 83.9L394.9 85.9L396.2 86.5L397.6 86.5M396.9 77.3L392.3 77.3M422.8 83.2L422.1 84.6L420.8 85.9L419.5 86.5L416.8 86.5L415.5 85.9L414.2 84.6L413.5 83.2L412.8 81.3L412.8 77.9L413.5 76L414.2 74.6L415.5 73.3L416.8 72.7L419.5 72.7L420.8 73.3L422.1 74.6L422.8 76M432.8 77.3L430.8 77.3L429.4 77.9L428.1 79.3L427.5 81.3L427.5 86.5M427.5 81.3L427.5 77.3M427.5 81.3M427.5 81.3M437.4 77.9L438.7 77.3L440.7 77.3L442.1 77.9L443.4 79.3L444.1 81.3L444.1 82.6L443.4 84.6L442.1 85.9L440.7 86.5L438.7 86.5L437.4 85.9L436.1 84.6L435.4 82.6L435.4 81.3L436.1 79.3L437.4 77.9M448 84.6L448.7 85.9L450.7 86.5L452.7 86.5L454.7 85.9L455.3 84.6L455.3 83.9L454.7 82.6L453.3 81.9L450 81.3L448.7 80.6L448 79.3L448.7 77.9L450.7 77.3L452.7 77.3L454.7 77.9L455.3 79.3M459.3 84.6L460 85.9L462 86.5L464 86.5L466 85.9L466.6 84.6L466.6 83.9L466 82.6L464.6 81.9L461.3 81.3L460 80.6L459.3 79.3L460 77.9L462 77.3L464 77.3L466 77.9L466.6 79.3M471.3 77.3L471.3 86.5M470.6 72.7L471.3 72L471.9 72.7L471.3 73.3M483.9 86.5L483.9 79.9L483.2 77.9L481.9 77.3L479.9 77.3L478.6 77.9L476.6 79.9L476.6 86.5M476.6 79.9L476.6 77.3M496.5 77.3L496.5 88.4L495.8 91.2L495.2 92.1L493.8 93L491.9 93L490.5 92.1M496.5 79.3L495.2 77.9L493.8 77.3L491.9 77.3L490.5 77.9L489.2 79.3L488.5 81.3L488.5 82.6L489.2 84.6L490.5 85.9L491.9 86.5L493.8 86.5L495.2 85.9L496.5 84.6M518.4 86.5L513.8 86.5L513.8 72.7L518.4 72.7L520.4 73.3L521.7 74.6L522.4 76L523.1 77.9L523.1 81.3L522.4 83.2L521.7 84.6L520.4 85.9L518.4 86.5M527.7 77.3L527.7 86.5M527 72.7L527.7 72L528.4 72.7L527.7 73.3M532.4 84.6L533 85.9L535 86.5L537 86.5L539 85.9L539.7 84.6L539.7 83.9L539 82.6L537.7 81.9L534.4 81.3L533 80.6L532.4 79.3L533 77.9L535 77.3L537 77.3L539 77.9L539.7 79.3M545 72.7L545 83.9L545.6 85.9L547 86.5L548.3 86.5M547.6 77.3L543 77.3M557.6 77.3L555.6 77.3L554.3 77.9L552.9 79.3L552.3 81.3L552.3 86.5M552.3 81.3L552.3 77.3M552.3 81.3M552.3 81.3M560.9 77.3L560.9 86.5M560.2 72.7L560.9 72L561.6 72.7L560.9 73.3M566.2 72.7L566.2 86.5M566.2 79.3L567.5 77.9L568.9 77.3L570.9 77.3L572.2 77.9L573.5 79.3L574.2 81.3L574.2 82.6L573.5 84.6L572.2 85.9L570.9 86.5L568.9 86.5L567.5 85.9L566.2 84.6M586.1 77.3L586.1 86.5M586.1 83.9L584.1 85.9L582.8 86.5L580.8 86.5L579.5 85.9L578.8 83.9L578.8 77.3M592.1 72.7L592.1 83.9L592.8 85.9L594.1 86.5L595.4 86.5M594.8 77.3L590.1 77.3M599.4 77.3L599.4 86.5M598.8 72.7L599.4 72L600.1 72.7L599.4 73.3M606.1 77.9L607.4 77.3L609.4 77.3L610.7 77.9L612 79.3L612.7 81.3L612.7 82.6L612 84.6L610.7 85.9L609.4 86.5L607.4 86.5L606.1 85.9L604.7 84.6L604.1 82.6L604.1 81.3L604.7 79.3L606.1 77.9M624.6 86.5L624.6 79.9L624 77.9L622.7 77.3L620.7 77.3L619.3 77.9L617.3 79.9L617.3 86.5M617.3 79.9L617.3 77.3" fill="none" stroke="#000" stroke-width="1.5" stroke-linecap="round" stroke-linejoin="round"/>
<path d="M103.4 103.4L94.1 103.4M110.1 97.4L111.8 96.8L113 96.8L114.8 97.4L115.9 99L116.5 101.8L116.5 103.4L115.9 106.2L114.8 107.8L113 108.4L111.8 108.4L110.1 107.8L108.9 106.2L108.3 103.4L108.3 101.8L108.9 99L110.1 97.4M121.8 107.8L121.2 107.3L120.6 107.8L121.2 108.4M126.4 101.8L127 96.8L132.8 96.8M126.4 101.8L127 101.2L128.8 100.7L130.5 100.7L132.3 101.2L133.4 102.3L134 104L134 105.1L133.4 106.7L132.3 107.8L130.5 108.4L128.8 108.4L127 107.8L126.4 107.3L125.8 106.2" fill="none" stroke="#000" stroke-width="1.8" stroke-linecap="round" stroke-linejoin="round"/>
<path d="M103.4 205.8L94.1 205.8M110.1 201.4L111.3 200.8L113 199.2M113 199.2L113 210.8M121.8 210.2L121.2 209.6L120.6 210.2L121.2 210.8M127.6 199.7L129.3 199.2L130.5 199.2L132.3 199.7L133.4 201.4L134 204.1L134 205.8L133.4 208.5L132.3 210.2L130.5 210.8L129.3 210.8L127.6 210.2L126.4 208.5L125.8 205.8L125.8 204.1L126.4 201.4L127.6 199.7" fill="none" stroke="#000" stroke-width="1.8" stroke-linecap="round" stroke-linejoin="round"/>
<path d="M103.4 313.5L94.1 313.5M110.1 309.1L111.3 308.5L113 306.9M113 306.9L113 318.5M121.8 317.9L121.2 317.3L120.6 317.9L121.2 318.5M126.4 311.8L127 306.9L132.8 306.9M126.4 311.8L127 311.3L128.8 310.7L130.5 310.7L132.3 311.3L133.4 312.4L134 314L134 315.1L133.4 316.8L132.3 317.9L130.5 318.5L128.8 318.5L127 317.9L126.4 317.3L125.8 316.2" fill="none" stroke="#000" stroke-width="1.8" stroke-linecap="round" stroke-linejoin="round"/>
<path d="M103.4 421.2L94.1 421.2M108.9 417.3L108.9 416.8L109.5 415.7L110.1 415.1L111.3 414.6L113.6 414.6L114.8 415.1L115.3 415.7L115.9 416.8L115.9 417.9L115.3 419L114.2 420.6L108.3 426.2M116.5 426.2L108.3 426.2M121.8 425.6L121.2 425L120.6 425.6L121.2 426.2M127.6 415.1L129.3 414.6L130.5 414.6L132.3 415.1L133.4 416.8L134 419.5L134 421.2L133.4 423.9L132.3 425.6L130.5 426.2L129.3 426.2L127.6 425.6L126.4 423.9L125.8 421.2L125.8 419.5L126.4 416.8L127.6 415.1" fill="none" stroke="#000" stroke-width="1.8" stroke-linecap="round" stroke-linejoin="round"/>
<path d="M103.4 522L94.1 522M108.9 518.2L108.9 517.6L109.5 516.5L110.1 516L111.3 515.4L113.6 515.4L114.8 516L115.3 516.5L115.9 517.6L115.9 518.7L115.3 519.8L114.2 521.5L108.3 527M116.5 527L108.3 527M121.8 526.4L121.2 525.9L120.6 526.4L121.2 527M126.4 520.4L127 515.4L132.8 515.4M126.4 520.4L127 519.8L128.8 519.3L130.5 519.3L132.3 519.8L133.4 520.9L134 522.6L134 523.7L133.4 525.3L132.3 526.4L130.5 527L128.8 527L127 526.4L126.4 525.9L125.8 524.8" fill="none" stroke="#000" stroke-width="1.8" stroke-linecap="round" stroke-linejoin="round"/>
<path d="M130.9 548.9L122.1 548.9M137.6 544.5L138.8 543.9L140.5 542.2M140.5 542.2L140.5 553.9M149.3 553.3L148.7 552.7L148.1 553.3L148.7 553.9M154 547.2L154.5 542.2L160.4 542.2M154 547.2L154.5 546.7L156.3 546.1L158 546.1L159.8 546.7L161 547.8L161.5 549.4L161.5 550.5L161 552.2L159.8 553.3L158 553.9L156.3 553.9L154.5 553.3L154 552.7L153.4 551.6" fill="none" stroke="#000" stroke-width="1.8" stroke-linecap="round" stroke-linejoin="round"/>
<path d="M222.1 548.9L213.3 548.9M228.8 544.5L230 543.9L231.8 542.2M231.8 542.2L231.8 553.9M240.5 553.3L239.9 552.7L239.3 553.3L239.9 553.9M246.3 542.8L248.1 542.2L249.3 542.2L251 542.8L252.2 544.5L252.8 547.2L252.8 548.9L252.2 551.6L251 553.3L249.3 553.9L248.1 553.9L246.3 553.3L245.2 551.6L244.6 548.9L244.6 547.2L245.2 544.5L246.3 542.8" fill="none" stroke="#000" stroke-width="1.8" stroke-linecap="round" stroke-linejoin="round"/>
<path d="M313.4 548.9L304.5 548.9M320.1 542.8L321.8 542.2L323 542.2L324.7 542.8L325.9 544.5L326.5 547.2L326.5 548.9L325.9 551.6L324.7 553.3L323 553.9L321.8 553.9L320.1 553.3L318.9 551.6L318.3 548.9L318.3 547.2L318.9 544.5L320.1 542.8M331.7 553.3L331.1 552.7L330.6 553.3L331.1 553.9M336.4 547.2L337 542.2L342.8 542.2M336.4 547.2L337 546.7L338.7 546.1L340.5 546.1L342.2 546.7L343.4 547.8L344 549.4L344 550.5L343.4 552.2L342.2 553.3L340.5 553.9L338.7 553.9L337 553.3L336.4 552.7L335.8 551.6" fill="none" stroke="#000" stroke-width="1.8" stroke-linecap="round" stroke-linejoin="round"/>
<path d="M404.4 542.8L406.1 542.2L407.3 542.2L409 542.8L410.2 544.5L410.8 547.2L410.8 548.9L410.2 551.6L409 553.3L407.3 553.9L406.1 553.9L404.4 553.3L403.2 551.6L402.6 548.9L402.6 547.2L403.2 544.5L404.4 542.8M416 553.3L415.4 552.7L414.9 553.3L415.4 553.9M421.9 542.8L423.6 542.2L424.8 542.2L426.5 542.8L427.7 544.5L428.3 547.2L428.3 548.9L427.7 551.6L426.5 553.3L424.8 553.9L423.6 553.9L421.9 553.3L420.7 551.6L420.1 548.9L420.1 547.2L420.7 544.5L421.9 542.8" fill="none" stroke="#000" stroke-width="1.8" stroke-linecap="round" stroke-linejoin="round"/>
<path d="M495.6 542.8L497.3 542.2L498.5 542.2L500.3 542.8L501.4 544.5L502 547.2L502 548.9L501.4 551.6L500.3 553.3L498.5 553.9L497.3 553.9L495.6 553.3L494.4 551.6L493.8 548.9L493.8 547.2L494.4 544.5L495.6 542.8M507.2 553.3L506.7 552.7L506.1 553.3L506.7 553.9M511.9 547.2L512.5 542.2L518.3 542.2M511.9 547.2L512.5 546.7L514.2 546.1L516 546.1L517.7 546.7L518.9 547.8L519.5 549.4L519.5 550.5L518.9 552.2L517.7 553.3L516 553.9L514.2 553.9L512.5 553.3L511.9 552.7L511.3 551.6" fill="none" stroke="#000" stroke-width="1.8" stroke-linecap="round" stroke-linejoin="round"/>
<path d="M585.9 544.5L587.1 543.9L588.8 542.2M588.8 542.2L588.8 553.9M597.6 553.3L597 552.7L596.4 553.3L597 553.9M603.4 542.8L605.2 542.2L606.3 542.2L608.1 542.8L609.3 544.5L609.8 547.2L609.8 548.9L609.3 551.6L608.1 553.3L606.3 553.9L605.2 553.9L603.4 553.3L602.3 551.6L601.7 548.9L601.7 547.2L602.3 544.5L603.4 542.8" fill="none" stroke="#000" stroke-width="1.8" stroke-linecap="round" stroke-linejoin="round"/>
<path d="M677.1 544.5L678.3 543.9L680.1 542.2M680.1 542.2L680.1 553.9M688.8 553.3L688.2 552.7L687.6 553.3L688.2 553.9M693.5 547.2L694.1 542.2L699.9 542.2M693.5 547.2L694.1 546.7L695.8 546.1L697.6 546.1L699.3 546.7L700.5 547.8L701.1 549.4L701.1 550.5L700.5 552.2L699.3 553.3L697.6 553.9L695.8 553.9L694.1 553.3L693.5 552.7L692.9 551.6" fill="none" stroke="#000" stroke-width="1.8" stroke-linecap="round" stroke-linejoin="round"/>
<path d="M394.5 565.5L394.5 575.8M400.2 569.4L401.3 568.9L403 568.9L404.1 569.4L405.2 570.4L405.8 571.8L405.8 572.8L405.2 574.3L404.1 575.3L403 575.8L401.3 575.8L400.2 575.3L399 574.3L398.5 572.8L398.5 571.8L399 570.4L400.2 569.4M416 568.9L416 577.1L415.4 579.2L414.8 579.9L413.7 580.6L412 580.6L410.9 579.9M416 570.4L414.8 569.4L413.7 568.9L412 568.9L410.9 569.4L409.8 570.4L409.2 571.8L409.2 572.8L409.8 574.3L410.9 575.3L412 575.8L413.7 575.8L414.8 575.3L416 574.3" fill="none" stroke="#000" stroke-width="1.8" stroke-linecap="round" stroke-linejoin="round"/>
<path d="M430.1 569.5L431 568.8L432 568.7L431.7 570.6L431.2 573.2L430.6 576.1M430.6 576.1L432.6 575L434.6 573.4L436.2 571.6L437.1 570L437.4 568.7" fill="none" stroke="#000" stroke-width="1.8" stroke-linecap="round" stroke-linejoin="round"/>
<path d="M63.7 350.7L74 350.7M67.6 345.1L67.1 343.9L67.1 342.2L67.6 341.1L68.6 340L70.1 339.4L71.1 339.4L72.5 340L73.5 341.1L74 342.2L74 343.9L73.5 345.1L72.5 346.2L71.1 346.7L70.1 346.7L68.6 346.2L67.6 345.1M67.1 329.2L75.4 329.2L77.4 329.8L78.1 330.4L78.8 331.5L78.8 333.2L78.1 334.3M68.6 329.2L67.6 330.4L67.1 331.5L67.1 333.2L67.6 334.3L68.6 335.4L70.1 336L71.1 336L72.5 335.4L73.5 334.3L74 333.2L74 331.5L73.5 330.4L72.5 329.2M67.7 315.7L67 314.8L67 313.7L68.8 314L71.5 314.5L74.4 315.2M74.4 315.2L73.2 313.1L71.6 311.2L69.8 309.6L68.3 308.7L67 308.3M63.7 301L63.7 302.1L64.2 303.2L65.7 303.8L74 303.8M67.1 301.5L67.1 305.5M78.8 293.6L77.4 294.8L75.4 295.9L73 297L70.6 297.6L68.6 297.6L66.2 297L64.2 295.9L62.7 294.8L61.8 293.6M67.7 289.7L67 288.8L67 287.8L68.8 288L71.5 288.6L74.4 289.2M74.4 289.2L73.2 287.1L71.6 285.2L69.8 283.6L68.3 282.7L67 282.3M78.8 278.9L77.4 277.8L75.4 276.7L73 275.6L70.6 275L68.6 275L66.2 275.6L64.2 276.7L62.7 277.8L61.8 278.9" fill="none" stroke="#000" stroke-width="1.8" stroke-linecap="round" stroke-linejoin="round"/>
<path d="M294.5 420.3L293.5 421.2L292.5 421.6L291.1 421.6L290.1 421.2L289.1 420.3L288.6 419L288.6 418.2L289.1 416.9L290.1 416.1L291.1 415.7L292.5 415.7L293.5 416.1L294.5 416.9M298.8 416.1L299.8 415.7L301.3 415.7L302.2 416.1L303.2 416.9L303.7 418.2L303.7 419L303.2 420.3L302.2 421.2L301.3 421.6L299.8 421.6L298.8 421.2L297.9 420.3L297.4 419L297.4 418.2L297.9 416.9L298.8 416.1M312.5 421.6L312.5 417.4L312 416.1L311 415.7L309.5 415.7L308.6 416.1L307.1 417.4L307.1 421.6M307.1 417.4L307.1 415.7M315.9 420.3L316.4 421.2L317.8 421.6L319.3 421.6L320.7 421.2L321.2 420.3L321.2 419.9L320.7 419L319.8 418.6L317.3 418.2L316.4 417.8L315.9 416.9L316.4 416.1L317.8 415.7L319.3 415.7L320.7 416.1L321.2 416.9M325.1 412.7L325.1 419.9L325.6 421.2L326.6 421.6L327.5 421.6M327.1 415.7L323.7 415.7M335.8 415.7L335.8 421.6M335.8 416.9L334.8 416.1L333.9 415.7L332.4 415.7L331.4 416.1L330.5 416.9L330 418.2L330 419L330.5 420.3L331.4 421.2L332.4 421.6L333.9 421.6L334.8 421.2L335.8 420.3M345.1 421.6L345.1 417.4L344.6 416.1L343.6 415.7L342.1 415.7L341.2 416.1L339.7 417.4L339.7 421.6M339.7 417.4L339.7 415.7M349.4 412.7L349.4 419.9L349.9 421.2L350.9 421.6L351.9 421.6M351.4 415.7L348 415.7" fill="none" stroke="#000" stroke-width="1.45" stroke-linecap="round" stroke-linejoin="round"/>
<path d="M288.6 463.1L289.1 464L290.6 464.4L292 464.4L293.5 464L294 463.1L294 462.7L293.5 461.8L292.5 461.4L290.1 461L289.1 460.6L288.6 459.7L289.1 458.9L290.6 458.5L292 458.5L293.5 458.9L294 459.7M302.7 458.5L302.7 468.5M302.7 459.7L301.7 458.9L300.7 458.5L299.3 458.5L298.3 458.9L297.4 459.7L296.9 461L296.9 461.8L297.4 463.1L298.3 464L299.3 464.4L300.7 464.4L301.7 464L302.7 463.1M311.9 458.5L311.9 464.4M311.9 462.7L310.4 464L309.5 464.4L308 464.4L307.1 464L306.6 462.7L306.6 458.5M321.1 458.5L321.1 464.4M321.1 459.7L320.1 458.9L319.2 458.5L317.7 458.5L316.8 458.9L315.8 459.7L315.3 461L315.3 461.8L315.8 463.1L316.8 464L317.7 464.4L319.2 464.4L320.1 464L321.1 463.1M328.9 458.5L327.4 458.5L326.4 458.9L325.5 459.7L325 461L325 464.4M325 461L325 458.5M325 461M325 461M336.6 463.1L335.7 464L334.7 464.4L333.2 464.4L332.3 464L331.3 463.1L330.8 461.8L330.8 461L331.3 459.7L332.3 458.9L333.2 458.5L334.7 458.5L335.7 458.9L336.1 459.3L336.6 460.2L336.6 461L330.8 461M348 460.6L340.8 460.6M356.5 458.5L355.1 458.5L354.1 458.9L353.1 459.7L352.6 461L352.6 464.4M352.6 461L352.6 458.5M352.6 461M352.6 461M359.9 458.9L360.9 458.5L362.3 458.5L363.3 458.9L364.3 459.7L364.8 461L364.8 461.8L364.3 463.1L363.3 464L362.3 464.4L360.9 464.4L359.9 464L358.9 463.1L358.5 461.8L358.5 461L358.9 459.7L359.9 458.9M369.1 458.9L370.1 458.5L371.5 458.5L372.5 458.9L373.5 459.7L374 461L374 461.8L373.5 463.1L372.5 464L371.5 464.4L370.1 464.4L369.1 464L368.2 463.1L367.7 461.8L367.7 461L368.2 459.7L369.1 458.9M377.9 455.5L377.9 462.7L378.3 464L379.3 464.4L380.3 464.4M379.8 458.5L376.4 458.5" fill="none" stroke="#000" stroke-width="1.45" stroke-linecap="round" stroke-linejoin="round"/>
<path d="M294.6 506.2L293.6 507.1L292.6 507.5L291.1 507.5L290.1 507.1L289.1 506.2L288.6 504.9L288.6 504.1L289.1 502.8L290.1 502L291.1 501.6L292.6 501.6L293.6 502L294.1 502.4L294.6 503.3L294.6 504.1L288.6 504.1M298 498.6L298 507.5M302 498.6L302 507.5M305.9 501.6L305.9 507.5M305.4 498.6L305.9 498.2L306.4 498.6L305.9 499M309.9 511.6L309.9 501.6M309.9 502.8L310.9 502L311.8 501.6L313.3 501.6L314.3 502L315.3 502.8L315.8 504.1L315.8 504.9L315.3 506.2L314.3 507.1L313.3 507.5L311.8 507.5L310.9 507.1L309.9 506.2M318.8 506.2L319.3 507.1L320.7 507.5L322.2 507.5L323.7 507.1L324.2 506.2L324.2 505.8L323.7 504.9L322.7 504.5L320.2 504.1L319.3 503.7L318.8 502.8L319.3 502L320.7 501.6L322.2 501.6L323.7 502L324.2 502.8M328.6 502L329.6 501.6L331.1 501.6L332.1 502L333.1 502.8L333.6 504.1L333.6 504.9L333.1 506.2L332.1 507.1L331.1 507.5L329.6 507.5L328.6 507.1L327.7 506.2L327.2 504.9L327.2 504.1L327.7 502.8L328.6 502M337 501.6L337 507.5M336.6 498.6L337 498.2L337.5 498.6L337 499M346.4 507.5L346.4 498.6M346.4 502.8L345.4 502L344.5 501.6L343 501.6L342 502L341 502.8L340.5 504.1L340.5 504.9L341 506.2L342 507.1L343 507.5L344.5 507.5L345.4 507.1L346.4 506.2M355.8 501.6L355.8 507.5M355.8 502.8L354.8 502L353.8 501.6L352.4 501.6L351.4 502L350.4 502.8L349.9 504.1L349.9 504.9L350.4 506.2L351.4 507.1L352.4 507.5L353.8 507.5L354.8 507.1L355.8 506.2M359.8 498.6L359.8 507.5" fill="none" stroke="#000" stroke-width="1.45" stroke-linecap="round" stroke-linejoin="round"/>
<path d="M398.6 369.5L398.6 378.4M398.6 369.5L405.4 378.4M405.4 378.4L405.4 369.5M405.4 378.4M398.6 369.5M417.2 374.6L410 374.6M421.8 369.5L421.8 378.4M421.8 373.7L422.8 372.9L423.7 372.5L425.2 372.5L426.2 372.9L427.1 373.7L427.6 375L427.6 375.8L427.1 377.1L426.2 378L425.2 378.4L423.7 378.4L422.8 378L421.8 377.1M432 372.9L432.9 372.5L434.4 372.5L435.3 372.9L436.3 373.7L436.8 375L436.8 375.8L436.3 377.1L435.3 378L434.4 378.4L432.9 378.4L432 378L431 377.1L430.5 375.8L430.5 375L431 373.7L432 372.9M445.5 378.4L445.5 369.5M445.5 373.7L444.5 372.9L443.5 372.5L442.1 372.5L441.1 372.9L440.2 373.7L439.7 375L439.7 375.8L440.2 377.1L441.1 378L442.1 378.4L443.5 378.4L444.5 378L445.5 377.1M447.9 382.5L448.4 382.5L449.3 381.9L450.3 380.7L451.3 378.4L454.2 372.5M451.3 378.4L448.4 372.5" fill="none" stroke="#000" stroke-width="1.45" stroke-linecap="round" stroke-linejoin="round"/>
<path d="M471.5 411.9L471.5 418.2L472 419.5L473 420.4L474.5 420.8L475.5 420.8L477 420.4L478 419.5L478.5 418.2L478.5 411.9M487.9 420.8L487.9 416.6L487.4 415.3L486.4 414.9L484.9 414.9L483.9 415.3L482.5 416.6L482.5 420.8M482.5 416.6L482.5 414.9M497.4 419.5L496.4 420.4L495.4 420.8L493.9 420.8L492.9 420.4L491.9 419.5L491.4 418.2L491.4 417.4L491.9 416.1L492.9 415.3L493.9 414.9L495.4 414.9L496.4 415.3L497.4 416.1M501.8 415.3L502.8 414.9L504.3 414.9L505.3 415.3L506.3 416.1L506.8 417.4L506.8 418.2L506.3 419.5L505.3 420.4L504.3 420.8L502.8 420.8L501.8 420.4L500.8 419.5L500.3 418.2L500.3 417.4L500.8 416.1L501.8 415.3M514.2 414.9L512.8 414.9L511.8 415.3L510.8 416.1L510.3 417.4L510.3 420.8M510.3 417.4L510.3 414.9M510.3 417.4M510.3 417.4M520.7 414.9L519.2 414.9L518.2 415.3L517.2 416.1L516.7 417.4L516.7 420.8M516.7 417.4L516.7 414.9M516.7 417.4M516.7 417.4M524.2 420.4L523.7 419.9L523.2 420.4L523.7 420.8" fill="none" stroke="#000" stroke-width="1.45" stroke-linecap="round" stroke-linejoin="round"/>
<path d="M478.8 462.4L478.4 463.2L477.4 464.1L476.4 464.5L474.5 464.5L473.5 464.1L472.5 463.2L472 462.4L471.5 461.1L471.5 459L472 457.7L472.5 456.9L473.5 456L474.5 455.6L476.4 455.6L477.4 456L478.4 456.9L478.8 457.7M483.2 459L484.2 458.6L485.7 458.6L486.7 459L487.6 459.8L488.1 461.1L488.1 461.9L487.6 463.2L486.7 464.1L485.7 464.5L484.2 464.5L483.2 464.1L482.3 463.2L481.8 461.9L481.8 461.1L482.3 459.8L483.2 459M496.9 464.5L496.9 460.3L496.4 459L495.4 458.6L494 458.6L493 459L491.5 460.3L491.5 464.5M491.5 460.3L491.5 458.6M496.9 460.3L498.4 459L499.3 458.6L500.8 458.6L501.8 459L502.3 460.3L502.3 464.5M506.2 468.6L506.2 458.6M506.2 459.8L507.2 459L508.1 458.6L509.6 458.6L510.6 459L511.6 459.8L512 461.1L512 461.9L511.6 463.2L510.6 464.1L509.6 464.5L508.1 464.5L507.2 464.1L506.2 463.2M516.4 464.1L515.9 463.6L515.5 464.1L515.9 464.5M533.5 463.2L532.5 464.1L531.6 464.5L530.1 464.5L529.1 464.1L528.1 463.2L527.7 461.9L527.7 461.1L528.1 459.8L529.1 459L530.1 458.6L531.6 458.6L532.5 459L533.5 459.8M537.9 459L538.9 458.6L540.4 458.6L541.3 459L542.3 459.8L542.8 461.1L542.8 461.9L542.3 463.2L541.3 464.1L540.4 464.5L538.9 464.5L537.9 464.1L536.9 463.2L536.4 461.9L536.4 461.1L536.9 459.8L537.9 459M550.1 458.6L548.6 458.6L547.7 459L546.7 459.8L546.2 461.1L546.2 464.5M546.2 461.1L546.2 458.6M546.2 461.1M546.2 461.1M556.5 458.6L555 458.6L554 459L553 459.8L552.6 461.1L552.6 464.5M552.6 461.1L552.6 458.6M552.6 461.1M552.6 461.1M559.9 464.1L559.4 463.6L558.9 464.1L559.4 464.5" fill="none" stroke="#000" stroke-width="1.45" stroke-linecap="round" stroke-linejoin="round"/>
<path d="M471.5 505.6L472.5 506.5L474 506.9L476 506.9L477.4 506.5L478.4 505.6L478.4 504.3L477.9 503.5L477.4 503.1L476.4 502.7L473.5 501.8L472.5 501.4L472 501L471.5 500.1L471.5 499.3L472.5 498.4L474 498L476 498L477.4 498.4L478.4 499.3M482.4 498L482.4 505.2L482.8 506.5L483.8 506.9L484.8 506.9M484.3 501L480.9 501M491.7 501L490.2 501L489.2 501.4L488.3 502.2L487.8 503.5L487.8 506.9M487.8 503.5L487.8 501M487.8 503.5M487.8 503.5M495.1 501.4L496.1 501L497.6 501L498.6 501.4L499.6 502.2L500.1 503.5L500.1 504.3L499.6 505.6L498.6 506.5L497.6 506.9L496.1 506.9L495.1 506.5L494.2 505.6L493.7 504.3L493.7 503.5L494.2 502.2L495.1 501.4M508.9 506.9L508.9 502.7L508.4 501.4L507.4 501L506 501L505 501.4L503.5 502.7L503.5 506.9M503.5 502.7L503.5 501M518.3 501L518.3 508.1L517.8 509.8L517.3 510.4L516.3 511L514.8 511L513.8 510.4M518.3 502.2L517.3 501.4L516.3 501L514.8 501L513.8 501.4L512.9 502.2L512.4 503.5L512.4 504.3L512.9 505.6L513.8 506.5L514.8 506.9L516.3 506.9L517.3 506.5L518.3 505.6M535.5 505.6L534.5 506.5L533.5 506.9L532.1 506.9L531.1 506.5L530.1 505.6L529.6 504.3L529.6 503.5L530.1 502.2L531.1 501.4L532.1 501L533.5 501L534.5 501.4L535.5 502.2M539.9 501.4L540.9 501L542.4 501L543.4 501.4L544.4 502.2L544.9 503.5L544.9 504.3L544.4 505.6L543.4 506.5L542.4 506.9L540.9 506.9L539.9 506.5L538.9 505.6L538.5 504.3L538.5 503.5L538.9 502.2L539.9 501.4M552.2 501L550.8 501L549.8 501.4L548.8 502.2L548.3 503.5L548.3 506.9M548.3 503.5L548.3 501M548.3 503.5M548.3 503.5M558.6 501L557.2 501L556.2 501.4L555.2 502.2L554.7 503.5L554.7 506.9M554.7 503.5L554.7 501M554.7 503.5M554.7 503.5M562.1 506.5L561.6 506L561.1 506.5L561.6 506.9" fill="none" stroke="#000" stroke-width="1.45" stroke-linecap="round" stroke-linejoin="round"/>
<path d="M233.3 420.0H270" stroke="#00ff48" stroke-width="1.3"/>
<path d="M233.3 463.0H270" stroke="#0000ff" stroke-width="1.3"/>
<path d="M233.3 505.9H270" stroke="#ff0000" stroke-width="1.3"/>
<path d="M415.7 419.9H452.2" stroke="#000" stroke-width="1.3"/>
<path d="M415.7 462.9H452.2" stroke="#000" stroke-width="1.3" stroke-dasharray="8 8.5"/>
<path d="M415.5 506.2H452.8" stroke="#000" stroke-width="1.5" stroke-dasharray="1.7 4.4"/>
</svg></body></html>
